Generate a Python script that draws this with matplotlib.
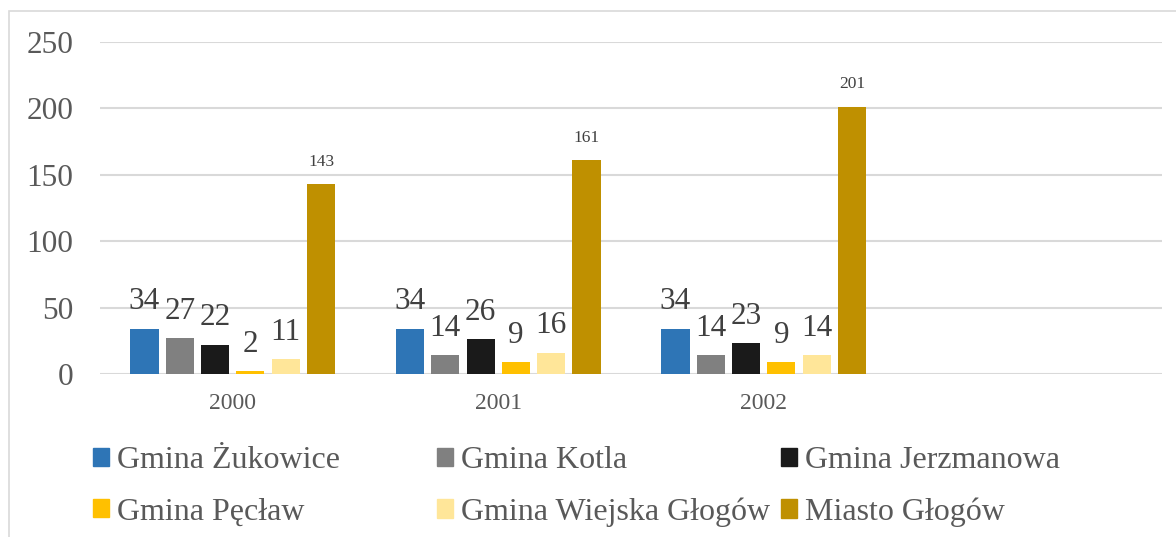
import numpy as np
import matplotlib.pyplot as plt
from matplotlib.patches import Rectangle, Patch

plt.rcParams['font.family'] = ['Liberation Serif', 'DejaVu Serif']

years = ['2000', '2001', '2002', '']
names = ['Gmina Żukowice', 'Gmina Kotla', 'Gmina Jerzmanowa',
         'Gmina Pęcław', 'Gmina Wiejska Głogów', 'Miasto Głogów']
zukowice = [34, 34, 34]
kotla = [27, 14, 14]
jerzmanowa = [22, 26, 23]
peclaw = [2, 9, 9]
wiejska = [11, 16, 14]
miasto = [143, 161, 201]
colors = ['#2E75B6', '#808080', '#1A1A1A', '#FFC000', '#FFE699', '#BF9000']

series = [zukowice, kotla, jerzmanowa, peclaw, wiejska, miasto]

fig = plt.figure(figsize=(11.76, 5.37), dpi=100)
ax = fig.add_axes([100 / 1176, 1 - 374 / 537, 1062 / 1176, 332 / 537])

# outer frame
fig.patches.append(Rectangle((9 / 1176, -0.1), 1.2, 0.1 + 1 - 11 / 537,
                             transform=fig.transFigure, fill=False,
                             edgecolor='#D9D9D9', linewidth=1.2))

x = np.arange(3)
step = 0.133
width = 0.106
handles = []
for i, vals in enumerate(series):
    pos = x + (i - 2.5) * step
    bars = ax.bar(pos, vals, width, color=colors[i], zorder=3)
    handles.append(Patch(color=colors[i], label=names[i]))
    for b, v in zip(bars, vals):
        if i < 5:
            ax.annotate(str(v), (b.get_x() + b.get_width() / 2, v),
                        xytext=(0, 9), textcoords='offset points',
                        ha='center', va='bottom', fontsize=22.5, color='#404040')
        else:
            ax.annotate(str(v), (b.get_x() + b.get_width() / 2, v),
                        xytext=(0, 10.5), textcoords='offset points',
                        ha='center', va='bottom', fontsize=12.5, color='#404040')

ax.set_xlim(-0.5, 3.5)
ax.set_ylim(0, 250)
ax.set_yticks(range(0, 251, 50))
ax.set_xticks(range(4))
ax.set_xticklabels(years)
ax.tick_params(axis='y', labelsize=22.5, colors='#595959', length=0, pad=19)
ax.tick_params(axis='x', labelsize=17, colors='#595959', length=0, pad=14)
ax.grid(axis='y', color='#D9D9D9', linewidth=1.5, zorder=0)
for s in ax.spines.values():
    s.set_visible(False)

# legend: three columns, evenly spaced like the original
col_x = [93, 437, 781]
for c in range(3):
    hs = [handles[c], handles[c + 3]]
    fig.legend(hs, [h.get_label() for h in hs], loc='upper left',
               bbox_to_anchor=(col_x[c] / 1176, 1 - 446 / 537),
               frameon=False, fontsize=23, handlelength=0.5, handleheight=0.5,
               handletextpad=0.25, labelspacing=0.7, borderpad=0,
               borderaxespad=0, labelcolor='#595959')

fig.savefig('out.png', dpi=100)
